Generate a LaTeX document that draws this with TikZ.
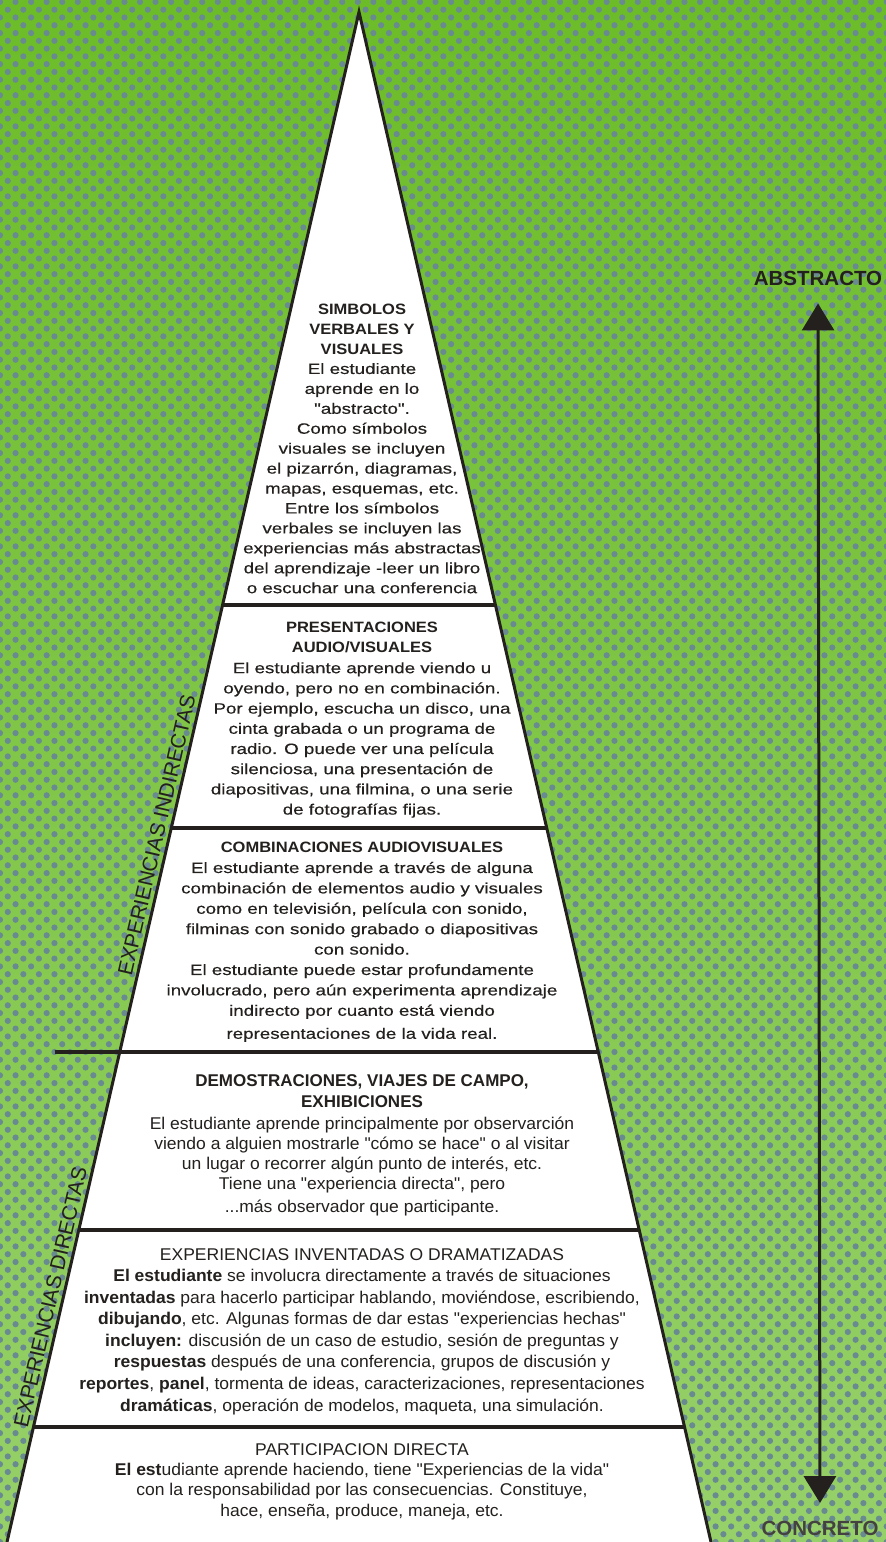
\documentclass[tikz,border=0pt]{standalone}
\usepackage{fontspec}
\setmainfont{Liberation Sans}
\newfontfamily\upperfont[FakeStretch=1.25,FakeBold=0.3]{Liberation Sans}
\newfontfamily\upperhead[FakeStretch=1.1]{Liberation Sans}
\newfontfamily\lowerfont[FakeStretch=1.03]{Liberation Sans}
\usetikzlibrary{arrows.meta,calc,patterns.meta}

\definecolor{ink}{RGB}{35,32,30}
\definecolor{limetop}{RGB}{108,188,40}
\definecolor{limebot}{RGB}{150,208,105}
\definecolor{halftone}{RGB}{105,138,145}

\newcommand\head[1]{{\upperhead\bfseries #1}}
\newcommand\deephead[1]{{\rmfamily\bfseries #1}}

\tikzset{
  tierline/.style={line width=3.6pt, draw=ink},
  uppertier/.style={align=center, text=ink, inner sep=0pt,
    font=\upperfont\fontsize{15}{#1}\selectfont},
  lowertier/.style={align=center, text=ink, inner sep=0pt,
    font=\lowerfont\fontsize{17}{#1}\selectfont},
  sidelabel/.style={anchor=south, rotate=77.04, inner sep=5pt, text=ink,
    font=\fontsize{21}{24}\selectfont},
  poletext/.style={inner sep=0pt, font=\fontsize{20.5}{24}\selectfont\bfseries},
  pole/.style={line width=3pt, draw=ink,
    {Triangle[width=32pt,length=27pt]}-{Triangle[width=32pt,length=27pt]}}
}

\begin{document}
\begin{tikzpicture}[x=1pt,y=-1pt]
  \useasboundingbox (0,0) rectangle (886,1542);

  % halftone green background
  \shade[top color=limetop, bottom color=limebot] (0,0) rectangle (886,1542);
  \fill[pattern={Dots[distance=11pt,radius=3.1pt,angle=45]}, pattern color=halftone]
    (0,0) rectangle (886,1542);

  % pyramid
  \coordinate (apex) at (359,12);
  \coordinate (bl) at (7,1542);
  \coordinate (br) at (711,1542);
  \fill[white] (apex) -- (br) -- (bl) -- cycle;
  \foreach \t in {0.3876,0.5333,0.6797,0.7961,0.9248}
    \draw[tierline] ($(apex)!\t!(bl)$) -- ($(apex)!\t!(br)$);
  \draw[tierline] (55,1052) -- ($(apex)!0.6797!(bl)$);
  \draw[line width=3pt, draw=ink] (bl) -- (apex) -- (br);

  % tiers, top to bottom
  \node[uppertier=19.93] (symbols) at (362,448.5) {\head{SIMBOLOS}\\ \head{VERBALES Y}\\
    \head{VISUALES}\\ El estudiante\\ aprende en lo\\ "abstracto".\\ Como símbolos\\
    visuales se incluyen\\ el pizarrón, diagramas,\\ mapas, esquemas, etc.\\
    Entre los símbolos\\ verbales se incluyen las\\ experiencias más abstractas\\
    del aprendizaje -leer un libro\\ o escuchar una conferencia};

  \node[uppertier=20.2] (audiovis) at (362,720) {\head{PRESENTACIONES}\\ \head{AUDIO/VISUALES}\\
    El estudiante aprende viendo u\\ oyendo, pero no en combinación.\\
    Por ejemplo, escucha un disco, una\\ cinta grabada o un programa de\\
    radio. O puede ver una película\\ silenciosa, una presentación de\\
    diapositivas, una filmina, o una serie\\ de fotografías fijas.};

  \node[uppertier=20.4] (combined) at (362,942) {\head{COMBINACIONES AUDIOVISUALES}\\
    El estudiante aprende a través de alguna\\ combinación de elementos audio y visuales\\
    como en televisión, película con sonido,\\ filminas con sonido grabado o diapositivas\\
    con sonido.\\ El estudiante puede estar profundamente\\
    involucrado, pero aún experimenta aprendizaje\\ indirecto por cuanto está viendo\\[2.6pt]
    representaciones de la vida real.};

  \node[lowertier=20] (demos) at (362,1145) {\deephead{DEMOSTRACIONES, VIAJES DE CAMPO,}\\[1.5pt]
    \deephead{EXHIBICIONES}\\[1.5pt]
    El estudiante aprende principalmente por observarción\\
    viendo a alguien mostrarle "cómo se hace" o al visitar\\
    un lugar o recorrer algún punto de interés, etc.\\
    Tiene una "experiencia directa", pero\\[3pt]
    ...más observador que participante.};

  \node[lowertier=21.5] (invented) at (362,1332) {EXPERIENCIAS INVENTADAS O DRAMATIZADAS\\
    \textbf{El estudiante} se involucra directamente a través de situaciones\\
    \textbf{inventadas} para hacerlo participar hablando, moviéndose, escribiendo,\\
    \textbf{dibujando}, etc. Algunas formas de dar estas "experiencias hechas"\\
    \textbf{incluyen:} discusión de un caso de estudio, sesión de preguntas y\\
    \textbf{respuestas} después de una conferencia, grupos de discusión y\\
    \textbf{reportes}, \textbf{panel}, tormenta de ideas, caracterizaciones, representaciones\\[1pt]
    \textbf{dramáticas}, operación de modelos, maqueta, una simulación.};

  \node[lowertier=20.3] (direct) at (362,1481.5) {PARTICIPACION DIRECTA\\
    \textbf{El est}udiante aprende haciendo, tiene "Experiencias de la vida"\\
    con la responsabilidad por las consecuencias. Constituye,\\
    hace, enseña, produce, maneja, etc.};

  % side labels along the left edge
  \node[sidelabel] (indirectlabel) at ($(apex)!0.5399!(bl)$) {EXPERIENCIAS INDIRECTAS};
  \node[sidelabel] (directlabel) at ($(apex)!0.8418!(bl)$) {EXPERIENCIAS DIRECTAS};

  % abstract / concrete scale
  \node[poletext, text=ink] (abstract) at (818,278) {ABSTRACTO};
  \node[poletext, text=ink!85] (concrete) at (820,1528.5) {CONCRETO};
  \draw[pole, shorten <=18pt, shorten >=18pt] (abstract.south) -- (concrete.north);
\end{tikzpicture}
\end{document}
